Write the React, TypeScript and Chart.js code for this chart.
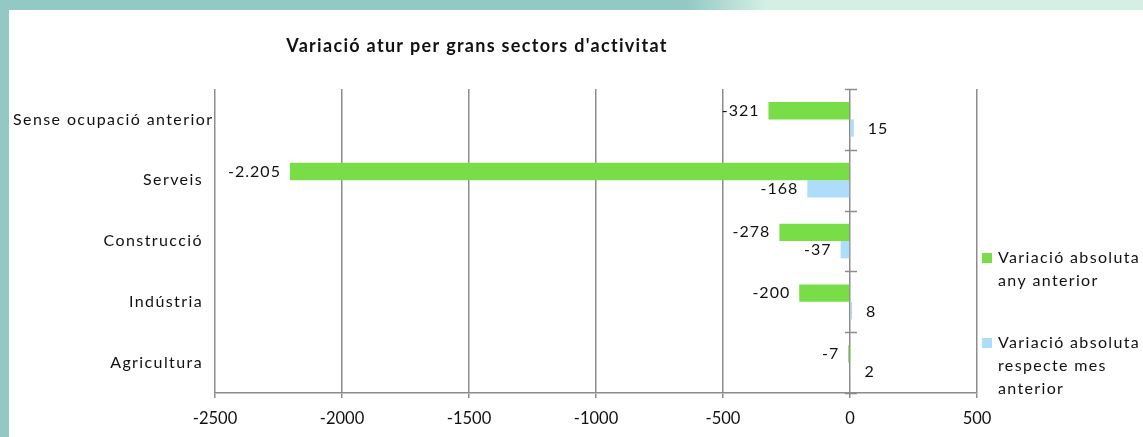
import React, { useEffect, useRef } from 'react';
import { Chart, registerables } from 'chart.js';

Chart.register(...registerables);

const chartTitle = "Variació atur per grans sectors d'activitat";
const categories = ['Sense ocupació anterior', 'Serveis', 'Construcció', 'Indústria', 'Agricultura'];
const seriesNames = ['Variació absoluta any anterior', 'Variació absoluta respecte mes anterior'];
const legendLines = [
  ['Variació absoluta', 'any anterior'],
  ['Variació absoluta', 'respecte mes', 'anterior'],
];
const anyAnterior = [-321, -2205, -278, -200, -7];
const mesAnterior = [15, -168, -37, 8, 2];
const xMin = -2500;
const xMax = 500;
const xStep = 500;

const GREEN = '#78dd47';
const BLUE = '#aedcfb';
const GRID = '#8c8c8c';
const TEXT = '#111111';
const FONT = 'Lato, "Open Sans", sans-serif';

const W = 1134;
const H = 427;

function fmt(v: number): string {
  const s = Math.abs(v).toString().replace(/\B(?=(\d{3})+(?!\d))/g, '.');
  return (v < 0 ? '-' : '') + s;
}

function spaced(ctx: any, px: number) {
  try { ctx.letterSpacing = px + 'px'; } catch (e) { /* ignore */ }
}

const decorPlugin = {
  id: 'decor',
  afterDraw(chart: any) {
    const ctx = chart.ctx;
    const area = chart.chartArea;
    const xs = chart.scales.x;
    const ys = chart.scales.y;
    ctx.save();
    // zero-axis tick marks at category boundaries
    const x0 = xs.getPixelForValue(0);
    ctx.strokeStyle = GRID;
    ctx.lineWidth = 1.5;
    const n = categories.length;
    const step = (area.bottom - area.top) / n;
    for (let i = 0; i <= n; i++) {
      const y = Math.round(area.top + i * step) + 0.5;
      ctx.beginPath();
      ctx.moveTo(x0 - 5, y);
      ctx.lineTo(x0 + 7, y);
      ctx.stroke();
    }
    // category labels
    ctx.fillStyle = TEXT;
    ctx.font = `16px ${FONT}`;
    ctx.textBaseline = 'middle';
    spaced(ctx, 1.4);
    categories.forEach((c, i) => {
      const y = ys.getPixelForValue(i);
      const w = ctx.measureText(c).width;
      let right = area.left - 12;
      if (right - w < 4) right = 4 + w;
      ctx.textAlign = 'right';
      ctx.fillText(c, right, y);
    });
    // data labels
    spaced(ctx, 1);
    chart.data.datasets.forEach((ds: any, di: number) => {
      const meta = chart.getDatasetMeta(di);
      meta.data.forEach((el: any, i: number) => {
        const v = ds.data[i];
        if (v < 0) {
          ctx.textAlign = 'right';
          ctx.fillText(fmt(v), el.x - 9, el.y);
        } else {
          ctx.textAlign = 'left';
          ctx.fillText(fmt(v), el.x + 14, el.y + 1);
        }
      });
    });
    // title
    spaced(ctx, 1.3);
    ctx.font = `bold 18px ${FONT}`;
    ctx.textAlign = 'center';
    ctx.textBaseline = 'alphabetic';
    ctx.fillText(chartTitle, 468, 42);
    // legend
    const colors = [GREEN, BLUE];
    const tops = [248, 333];
    ctx.font = `16px ${FONT}`;
    ctx.textAlign = 'left';
    ctx.textBaseline = 'middle';
    spaced(ctx, 1.35);
    legendLines.forEach((lines, li) => {
      const lx = area.right + 5;
      ctx.fillStyle = colors[li];
      ctx.fillRect(lx, tops[li] - 5, 10, 10);
      ctx.fillStyle = TEXT;
      lines.forEach((t, k) => {
        ctx.fillText(t, lx + 16, tops[li] + k * 23);
      });
    });
    spaced(ctx, 0);
    ctx.restore();
  },
};

export default function App() {
  const ref = useRef<HTMLCanvasElement>(null);
  useEffect(() => {
    if (!ref.current) return;
    const chart = new Chart(ref.current, {
      type: 'bar',
      data: {
        labels: categories,
        datasets: [
          { label: seriesNames[0], data: anyAnterior, backgroundColor: GREEN, categoryPercentage: 0.57, barPercentage: 1 },
          { label: seriesNames[1], data: mesAnterior, backgroundColor: BLUE, categoryPercentage: 0.57, barPercentage: 1 },
        ],
      },
      options: {
        indexAxis: 'y',
        responsive: false,
        animation: false,
        layout: { padding: { top: 79, right: 166, left: 0, bottom: 0 } },
        plugins: { legend: { display: false }, title: { display: false }, tooltip: { enabled: false } },
        scales: {
          x: {
            type: 'linear',
            min: xMin,
            max: xMax,
            ticks: {
              stepSize: xStep,
              color: TEXT,
              font: { family: FONT, size: 16.5 },
              padding: 11,
              callback: (v: any) => String(v),
            },
            grid: { color: GRID, lineWidth: 1.5, tickLength: 5, drawTicks: true },
            border: { display: true, color: GRID, width: 1.5 },
            afterFit: (s: any) => { s.height = 44; },
          },
          y: {
            ticks: { display: false },
            grid: { display: false, drawTicks: false },
            border: { display: false },
            afterFit: (s: any) => { s.width = 206; },
          },
        },
      },
      plugins: [decorPlugin],
    } as any);
    return () => chart.destroy();
  }, []);

  return (
    <div style={{ position: 'fixed', left: 0, top: 0, width: 1143, height: 437, background: '#93c8c4', overflow: 'hidden' }}>
      <div style={{ position: 'absolute', left: 0, top: 0, width: 1143, height: 10, background: 'linear-gradient(90deg, #93c8c4 0%, #93c8c4 60%, #d4efe3 67%, #d4efe3 100%)' }} />
      <div style={{ position: 'absolute', left: 9, top: 10, width: W, height: H, background: '#ffffff' }}>
        <canvas ref={ref} width={W} height={H} style={{ display: 'block' }} />
      </div>
    </div>
  );
}
